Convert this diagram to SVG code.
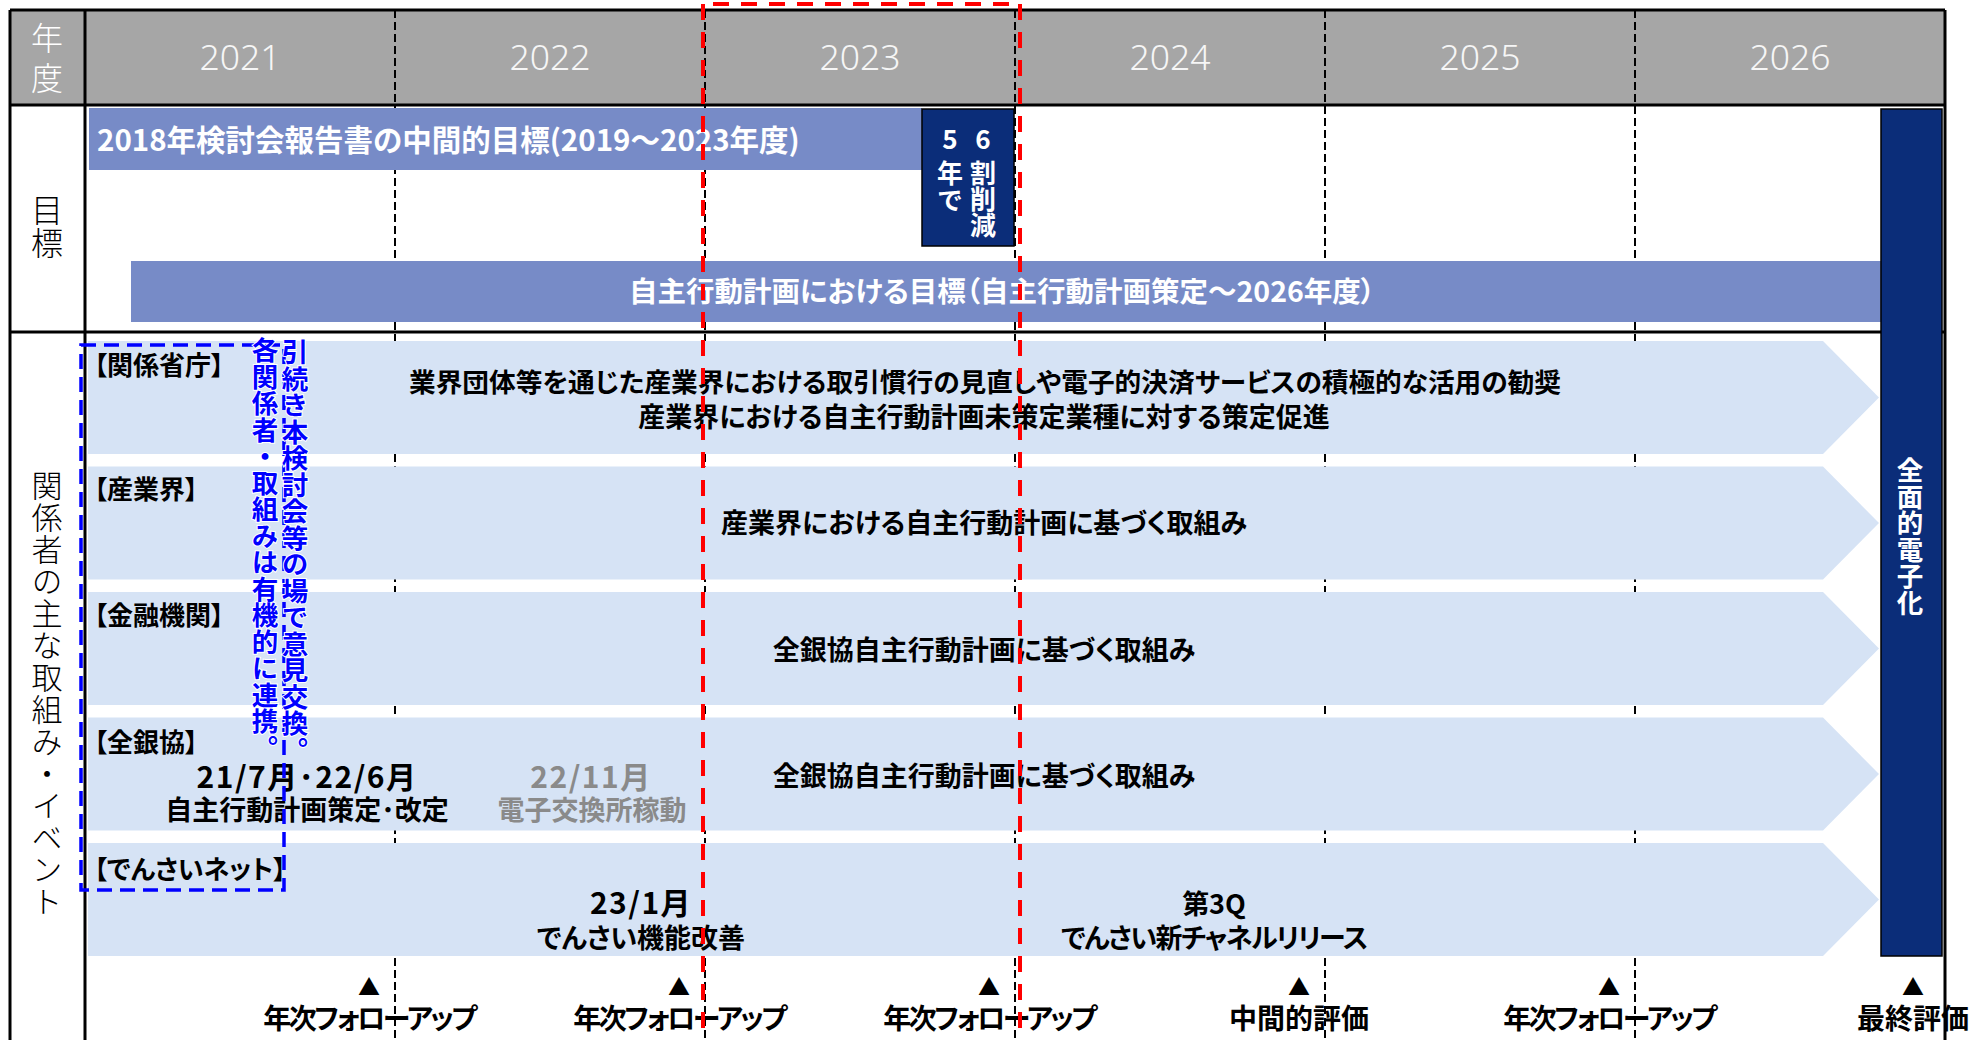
<svg xmlns="http://www.w3.org/2000/svg" width="1970" height="1040" viewBox="0 0 1970 1040">
<defs>
<style>
.cjk{font-family:'Noto Sans CJK JP','Noto Sans CJK SC',sans-serif;}
.b{font-weight:700;}
.lt{font-weight:300;}
.palt{font-feature-settings:"palt";}
.vt{writing-mode:tb;}
.yr{font-family:'Noto Sans','Open Sans',sans-serif;font-weight:300;font-size:35.5px;fill:#f6f6f6;text-anchor:middle;}
.wt{fill:#ffffff;}
.bk{fill:#000000;}
.gy{fill:#8a8a8a;}
.mid{text-anchor:middle;}
.grid{stroke:#000;stroke-width:2;stroke-dasharray:8 4;fill:none;}
.solid{stroke:#000;stroke-width:3;fill:none;}
.chev{fill:#d6e3f5;}
.bar{fill:#778bc7;}
.navy{fill:#0b2d79;stroke:#000;stroke-width:1.5;}
.row{font-size:27px;}
.num{font-size:30px;letter-spacing:1.5px;}
.lab{font-size:26px;}
.blue{fill:#0000ff;font-size:26.5px;stroke:#fff;stroke-width:2;paint-order:stroke;}
</style>
</defs>

<g id="header">
  <rect x="10" y="10" width="1935" height="95" fill="#a6a6a6"/>
</g>

<g id="gridlines">
  <line class="grid" x1="395" y1="10" x2="395" y2="1040"/>
  <line class="grid" x1="705" y1="10" x2="705" y2="1040"/>
  <line class="grid" x1="1015" y1="10" x2="1015" y2="1040"/>
  <line class="grid" x1="1325" y1="10" x2="1325" y2="1040"/>
  <line class="grid" x1="1635" y1="10" x2="1635" y2="1040"/>
</g>

<g id="header-labels">
  <text class="cjk lt wt vt" font-size="32" letter-spacing="8" x="47" y="22">年度</text>
  <text class="yr" x="240" y="70">2021</text>
  <text class="yr" x="550" y="70">2022</text>
  <text class="yr" x="860" y="70">2023</text>
  <text class="yr" x="1170" y="70">2024</text>
  <text class="yr" x="1480" y="70">2025</text>
  <text class="yr" x="1790" y="70">2026</text>
</g>

<g id="goal-label">
  <text class="cjk lt bk vt" font-size="32" letter-spacing="1" x="47" y="194">目標</text>
</g>

<g id="goal-2018">
  <rect class="bar" x="89" y="108" width="833" height="62"/>
  <text class="cjk b wt palt" font-size="29.5" x="97" y="151">2018年検討会報告書の中間的目標(2019～2023年度)</text>
</g>

<g id="goal-56">
  <rect class="navy" x="922" y="109" width="92" height="137"/>
  <text class="cjk b wt mid" font-size="26" x="950" y="149">5</text>
  <text class="cjk b wt mid" font-size="26" x="983" y="149">6</text>
  <text class="cjk b wt vt" font-size="26" letter-spacing="1" x="950" y="160">年で</text>
  <text class="cjk b wt vt" font-size="26" x="983" y="160">割削減</text>
</g>

<g id="goal-jishu">
  <rect class="bar" x="131" y="261" width="1750" height="61"/>
  <text class="cjk b wt palt mid" font-size="28.5" x="1002" y="302">自主行動計画における目標（自主行動計画策定～2026年度）</text>
</g>

<g id="section-label">
  <text class="cjk lt bk vt" font-size="31" letter-spacing="1" x="47" y="470">関係者の主な取組み・イベント</text>
</g>

<g id="row-kankei">
  <polygon class="chev" points="88,341 1823,341 1879,397.5 1823,454 88,454"/>
  <text class="cjk b bk palt lab" x="94" y="375">【関係省庁】</text>
  <text class="cjk b bk palt mid" font-size="26.7" x="985" y="392">業界団体等を通じた産業界における取引慣行の見直しや電子的決済サービスの積極的な活用の勧奨</text>
  <text class="cjk b bk palt row mid" x="984" y="427">産業界における自主行動計画未策定業種に対する策定促進</text>
</g>

<g id="row-sangyo">
  <polygon class="chev" points="88,466.5 1823,466.5 1879,523 1823,579.5 88,579.5"/>
  <text class="cjk b bk palt lab" x="94" y="499">【産業界】</text>
  <text class="cjk b bk palt row mid" x="984" y="533">産業界における自主行動計画に基づく取組み</text>
</g>

<g id="row-kinyu">
  <polygon class="chev" points="88,592 1823,592 1879,648.5 1823,705 88,705"/>
  <text class="cjk b bk palt lab" x="94" y="625">【金融機関】</text>
  <text class="cjk b bk palt row mid" x="984" y="660">全銀協自主行動計画に基づく取組み</text>
</g>

<g id="row-zengin">
  <polygon class="chev" points="88,717.5 1823,717.5 1879,774 1823,830.5 88,830.5"/>
  <text class="cjk b bk palt lab" x="94" y="752">【全銀協】</text>
  <text class="cjk b bk palt row mid" x="984" y="786">全銀協自主行動計画に基づく取組み</text>
  <text class="cjk b bk palt num mid" x="307" y="788">21/7月･22/6月</text>
  <text class="cjk b bk palt row mid" x="307" y="820">自主行動計画策定･改定</text>
  <text class="cjk b gy palt num mid" x="591" y="788">22/11月</text>
  <text class="cjk b gy palt row mid" x="592" y="820">電子交換所稼動</text>
</g>

<g id="row-densai">
  <polygon class="chev" points="88,843 1823,843 1879,899.5 1823,956 88,956"/>
  <text class="cjk b bk palt lab" x="94" y="879">【でんさいネット】</text>
  <text class="cjk b bk palt num mid" x="641" y="914">23/1月</text>
  <text class="cjk b bk palt row mid" x="641" y="948">でんさい機能改善</text>
  <text class="cjk b bk palt row mid" x="1214" y="914">第3Q</text>
  <text class="cjk b bk palt row mid" letter-spacing="-1.5" x="1214" y="948">でんさい新チャネルリリース</text>
</g>

<g id="table-lines">
  <line class="solid" x1="10" y1="10" x2="1945" y2="10"/>
  <line class="solid" x1="10" y1="105" x2="1945" y2="105"/>
  <line class="solid" x1="10" y1="332" x2="1945" y2="332"/>
  <line class="solid" x1="10" y1="10" x2="10" y2="1040"/>
  <line class="solid" x1="85" y1="10" x2="85" y2="1040"/>
  <line class="solid" x1="1945" y1="10" x2="1945" y2="1040"/>
</g>

<g id="goal-zenmen">
  <rect class="navy" x="1881" y="109" width="61" height="847"/>
  <text class="cjk b wt vt" font-size="26.5" x="1910" y="457">全面的電子化</text>
</g>

<g id="milestones">
  <g class="cjk b bk" font-size="22" text-anchor="middle">
    <text x="369" y="995">▲</text>
    <text x="679" y="995">▲</text>
    <text x="989" y="995">▲</text>
    <text x="1299" y="995">▲</text>
    <text x="1609" y="995">▲</text>
    <text x="1913" y="995">▲</text>
  </g>
  <g class="cjk b bk palt" font-size="28" text-anchor="middle">
    <text x="369" y="1029" letter-spacing="-2.5">年次フォローアップ</text>
    <text x="679" y="1029" letter-spacing="-2.5">年次フォローアップ</text>
    <text x="989" y="1029" letter-spacing="-2.5">年次フォローアップ</text>
    <text x="1299" y="1029">中間的評価</text>
    <text x="1609" y="1029" letter-spacing="-2.5">年次フォローアップ</text>
    <text x="1913" y="1029">最終評価</text>
  </g>
</g>

<g id="coordination-note">
  <rect x="81" y="345" width="203" height="545" fill="none" stroke="#0000ff" stroke-width="3.5" stroke-dasharray="15 8"/>
  <text class="cjk b blue vt" x="295" y="339">引続き本検討会等の場で意見交換。</text>
  <text class="cjk b blue vt" x="265" y="337">各関係者・取組みは有機的に連携。</text>
</g>

<g id="focus-2023">
  <line x1="703" y1="4" x2="1020" y2="4" stroke="#ff0000" stroke-width="4" stroke-dasharray="16 12" stroke-dashoffset="18"/>
  <line x1="703" y1="4" x2="703" y2="1040" stroke="#ff0000" stroke-width="4" stroke-dasharray="16 12"/>
  <line x1="1020" y1="4" x2="1020" y2="1040" stroke="#ff0000" stroke-width="4" stroke-dasharray="16 12"/>
</g>
</svg>
